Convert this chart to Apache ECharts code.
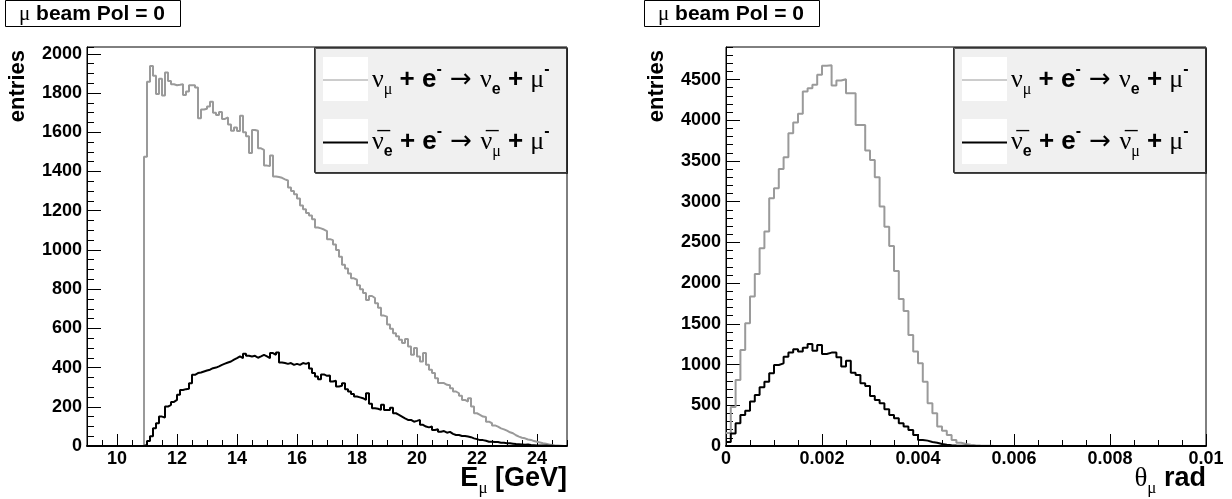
<!DOCTYPE html>
<html>
<head>
<meta charset="utf-8">
<script src="https://cdn.jsdelivr.net/npm/echarts@6.0.0/dist/echarts.min.js"></script>
<style>
  html, body { margin: 0; padding: 0; background: #fff; }
  #chart { width: 1232px; height: 499px; }
</style>
</head>
<body>
<div id="chart"></div>
<script>
// binning of the two histograms
const E_MIN = 9, E_MAX = 25, E_BIN = 0.1;         // muon energy, GeV
const T_MIN = 0, T_MAX = 0.01, T_BIN = 0.0001;    // muon angle, rad

// E_mu, nu_mu + e -> nu_e + mu (160 bins, 9..25 GeV)
const eNuMu = [
  0, 0, 0, 0, 0, 0, 0, 0, 0, 0, 0, 0, 0, 0, 0, 0, 0, 0, 0, 1475,
  1858, 1938, 1888, 1795, 1873, 1788, 1905, 1862, 1845, 1840,
  1842, 1845, 1790, 1808, 1840, 1840, 1828, 1672, 1716, 1720,
  1732, 1756, 1700, 1688, 1704, 1668, 1676, 1640, 1608, 1625,
  1606, 1684, 1600, 1580, 1495, 1612, 1608, 1518, 1510, 1430,
  1428, 1482, 1375, 1372, 1368, 1360, 1354, 1318, 1300, 1284,
  1262, 1226, 1208, 1188, 1176, 1156, 1114, 1110, 1104, 1096,
  1055, 1050, 1028, 1000, 965, 925, 905, 880, 855, 848,
  820, 800, 780, 745, 765, 755, 728, 705, 665, 660,
  620, 598, 575, 560, 542, 525, 546, 508, 465, 500,
  457, 431, 474, 414, 389, 372, 346, 321, 321, 312,
  310, 295, 278, 269, 256, 235, 227, 244, 201, 167,
  159, 150, 148, 124, 116, 105, 99, 90, 85, 78,
  70, 65, 55, 48, 42, 39, 33, 31, 25, 22,
  18, 14, 11, 8, 5, 3, 2, 1, 0, 0
];

// E_mu, anti-nu_e + e -> anti-nu_mu + mu
const eNuEbar = [
  0, 0, 0, 0, 0, 0, 0, 0, 0, 0, 0, 0, 0, 0, 0, 0, 0, 0, 0, 5,
  25, 50, 90, 116, 150, 145, 201, 210, 225, 235,
  261, 286, 290, 292, 320, 363, 372, 375, 380, 385,
  389, 397, 400, 406, 414, 420, 426, 431, 440, 448,
  457, 448, 471, 460, 457, 460, 450, 457, 465, 457,
  448, 474, 465, 477, 426, 423, 419, 423, 414, 419,
  414, 423, 419, 425, 395, 372, 355, 341, 365, 358,
  360, 329, 333, 304, 307, 320, 290, 278, 265, 252,
  248, 244, 235, 269, 216, 193, 190, 184, 210, 184,
  184, 195, 167, 159, 150, 141, 133, 133, 124, 128,
  133, 108, 99, 95, 99, 82, 85, 73, 76, 68,
  72, 62, 56, 56, 51, 51, 48, 45, 39, 35,
  30, 30, 27, 22, 22, 20, 20, 17, 16, 14,
  14, 12, 10, 9, 8, 6, 8, 5, 4, 3,
  3, 2, 2, 1, 1, 0, 0, 0, 0, 0
];

// theta_mu, nu_mu + e -> nu_e + mu (100 bins, 0..0.01 rad)
const thNuMu = [
  160, 480, 810, 1180, 1507, 1835, 2113, 2428, 2633, 3043,
  3165, 3403, 3546, 3841, 3972, 4079, 4353, 4394, 4435, 4558,
  4670, 4675, 4427, 4488, 4505, 4332, 4332, 3943, 3943, 3628,
  3513, 3300, 2940, 2694, 2457, 2150, 1806, 1658, 1364, 1159,
  1015, 790, 524, 401, 238, 188, 135, 74, 41, 25,
  15, 8, 5, 3, 2, 0, 0, 0, 0, 0,
  0, 0, 0, 0, 0, 0, 0, 0, 0, 0,
  0, 0, 0, 0, 0, 0, 0, 0, 0, 0,
  0, 0, 0, 0, 0, 0, 0, 0, 0, 0,
  0, 0, 0, 0, 0, 0, 0, 0, 0, 0
];

// theta_mu, anti-nu_e + e -> anti-nu_mu + mu
const thNuEbar = [
  50, 155, 278, 380, 434, 545, 626, 720, 790, 893,
  995, 1015, 1097, 1147, 1187, 1159, 1208, 1253, 1171, 1241,
  1130, 1147, 1147, 1089, 975, 1048, 901, 872, 770, 737,
  614, 565, 524, 450, 380, 340, 278, 238, 197, 135,
  74, 66, 49, 41, 25, 15, 10, 6, 4, 2,
  0, 0, 0, 0, 0, 0, 0, 0, 0, 0,
  0, 0, 0, 0, 0, 0, 0, 0, 0, 0,
  0, 0, 0, 0, 0, 0, 0, 0, 0, 0,
  0, 0, 0, 0, 0, 0, 0, 0, 0, 0,
  0, 0, 0, 0, 0, 0, 0, 0, 0, 0
];

// axis ranges and labelled ticks
const eTickLabels = [10, 12, 14, 16, 18, 20, 22, 24];
const eYMax = 2035;
const thYMax = 4900;

const COLORS = {
  light: '#9a9a9a',
  dark: '#000000',
  frame: '#000000',
  legendFill: '#f0f0f0'
};

const SANS = 'Liberation Sans';
const SERIF = 'Liberation Serif';

const LABEL = { fontFamily: SANS, fontWeight: 'bold', fontSize: 18, color: '#000' };

// histogram -> points for a step line (left bin edges + closing right edge)
function histPoints(values, xmin, width) {
  const pts = values.map((v, i) => [xmin + i * width, v]);
  pts.push([xmin + values.length * width, values[values.length - 1]]);
  return pts;
}

function histSeries(values, xmin, width, axis, color, lineWidth) {
  return {
    type: 'line',
    xAxisIndex: axis,
    yAxisIndex: axis,
    data: histPoints(values, xmin, width),
    step: 'end',
    symbol: 'none',
    silent: true,
    animation: false,
    lineStyle: { color: color, width: lineWidth }
  };
}

// rich styles shared by the legend, title and axis titles
function richStyles(size) {
  const sub = Math.round(size * 0.62);
  return {
    g: { fontFamily: SERIF, fontSize: size, fill: '#000', color: '#000', lineHeight: size + 10 },
    b: { fontFamily: SANS, fontWeight: 'bold', fontSize: size, fill: '#000', color: '#000', lineHeight: size + 10 },
    ar: { fontFamily: 'DejaVu Sans', fontSize: size, fill: '#000', color: '#000', lineHeight: size + 10 },
    gs: { fontFamily: SERIF, fontSize: sub, fill: '#000', color: '#000', lineHeight: size + 2, verticalAlign: 'bottom' },
    bs: { fontFamily: SANS, fontWeight: 'bold', fontSize: sub, fill: '#000', color: '#000', lineHeight: size + 2, verticalAlign: 'bottom' },
    sup: { fontFamily: SANS, fontWeight: 'bold', fontSize: sub, fill: '#000', color: '#000', lineHeight: size - 6, verticalAlign: 'top' }
  };
}

function text(x, y, str, size, align, extra) {
  return Object.assign({
    type: 'text',
    x: x,
    y: y,
    silent: true,
    style: {
      text: str,
      rich: richStyles(size),
      align: align, textAlign: align,
      verticalAlign: 'middle', textVerticalAlign: 'middle'
    }
  }, extra || {});
}

// decorations of one pad: title box, legend, axis titles
function padGraphics(dx, xTitle) {
  return [
    { type: 'rect', silent: true, shape: { x: 5.5 + dx, y: 0.5, width: 175, height: 26 },
      style: { fill: '#fff', stroke: '#000', lineWidth: 1 } },
    text(92 + dx, 14, '{g|\u03bc}{b| beam Pol = 0}', 21, 'center'),

    { type: 'rect', silent: true, shape: { x: 314.5 + dx, y: 47.5, width: 252, height: 125 },
      style: { fill: COLORS.legendFill, stroke: '#333', lineWidth: 1,
               shadowColor: 'rgba(0,0,0,0.6)', shadowOffsetX: 1, shadowOffsetY: 1 } },
    { type: 'rect', silent: true, shape: { x: 323 + dx, y: 57, width: 45, height: 44 }, style: { fill: '#fff' } },
    { type: 'rect', silent: true, shape: { x: 323 + dx, y: 119, width: 45, height: 45 }, style: { fill: '#fff' } },
    { type: 'line', silent: true, shape: { x1: 323 + dx, y1: 80, x2: 368 + dx, y2: 80 },
      style: { stroke: COLORS.light, lineWidth: 1 } },
    { type: 'line', silent: true, shape: { x1: 323 + dx, y1: 142.5, x2: 368 + dx, y2: 142.5 },
      style: { stroke: COLORS.dark, lineWidth: 2 } },
    text(372 + dx, 80, '{g|\u03bd}{gs|\u03bc}{b| + e}{sup|-}{ar| \u2192 }{g|\u03bd}{bs|e}{b| + }{g|\u03bc}{sup|-}', 26, 'left'),
    text(372 + dx, 142, '{g|\u03bd\u0305}{bs|e}{b| + e}{sup|-}{ar| \u2192 }{g|\u03bd\u0305}{gs|\u03bc}{b| + }{g|\u03bc}{sup|-}', 26, 'left'),

    text(18 + dx, 50, '{b|entries}', 22, 'right', { rotation: Math.PI / 2 }),
    text(567 + dx, 479, xTitle, 27, 'right')
  ];
}

function xAxes(grid, min, max, minorStep, majorTicks, majorStep, fmt) {
  const base = { gridIndex: grid, type: 'value', position: 'bottom', min: min, max: max, splitLine: { show: false } };
  const major = Object.assign({}, base, {
    axisLine: { show: false, onZero: false },
    axisTick: { inside: true, length: 12, lineStyle: { color: '#000', width: 1 } },
    axisLabel: Object.assign({ margin: 4, formatter: fmt }, LABEL)
  });
  if (majorTicks) {
    major.axisTick.customValues = majorTicks;
    major.axisLabel.customValues = majorTicks;
  } else {
    major.interval = majorStep;
  }
  return [
    Object.assign({}, base, {
      interval: minorStep,
      axisLine: { show: true, onZero: false, lineStyle: { color: '#000', width: 2 } },
      axisTick: { inside: true, length: 6, lineStyle: { color: '#000', width: 1 } },
      axisLabel: { show: false }
    }),
    major
  ];
}

function yAxes(grid, max, minorStep, majorStep) {
  const base = { gridIndex: grid, type: 'value', position: 'left', min: 0, max: max, splitLine: { show: false } };
  return [
    Object.assign({}, base, {
      interval: minorStep,
      axisLine: { show: true, onZero: false, lineStyle: { color: '#000', width: 1 } },
      axisTick: { inside: true, length: 7, lineStyle: { color: '#000', width: 1 } },
      axisLabel: { show: false }
    }),
    Object.assign({}, base, {
      interval: majorStep,
      axisLine: { show: false, onZero: false },
      axisTick: { inside: true, length: 14, lineStyle: { color: '#000', width: 1 } },
      axisLabel: Object.assign({
        margin: 5,
        showMaxLabel: false,
        formatter: v => (Math.round(v) % majorStep === 0 ? String(Math.round(v)) : '')
      }, LABEL)
    })
  ];
}

const gridBox = { top: 47, width: 480, height: 399, show: true, borderColor: COLORS.frame, borderWidth: 1, backgroundColor: '#fff' };

const option = {
  backgroundColor: '#fff',
  animation: false,
  grid: [
    Object.assign({ left: 87 }, gridBox),
    Object.assign({ left: 726 }, gridBox)
  ],
  // axes come in pairs (minor ticks, major ticks + labels); series use index 2*pad
  xAxis: [].concat(
    xAxes(0, E_MIN, E_MAX, 0.5, eTickLabels, null, v => String(v)),
    xAxes(1, T_MIN, T_MAX, 0.0005, null, 0.002, v => String(+v.toFixed(3)))
  ),
  yAxis: [].concat(
    yAxes(0, eYMax, 50, 200),
    yAxes(1, thYMax, 100, 500)
  ),
  series: [
    histSeries(eNuMu, E_MIN, E_BIN, 0, COLORS.light, 2),
    histSeries(eNuEbar, E_MIN, E_BIN, 0, COLORS.dark, 2),
    histSeries(thNuMu, T_MIN, T_BIN, 2, COLORS.light, 2),
    histSeries(thNuEbar, T_MIN, T_BIN, 2, COLORS.dark, 2)
  ],
  graphic: [].concat(
    padGraphics(0, '{b|E}{gs|\u03bc}{b| [GeV]}'),
    padGraphics(639, '{g|\u03b8}{gs|\u03bc}{b| rad}')
  )
};

const chart = echarts.init(document.getElementById('chart'), null, { renderer: 'canvas' });
chart.setOption(option);
</script>
</body>
</html>
